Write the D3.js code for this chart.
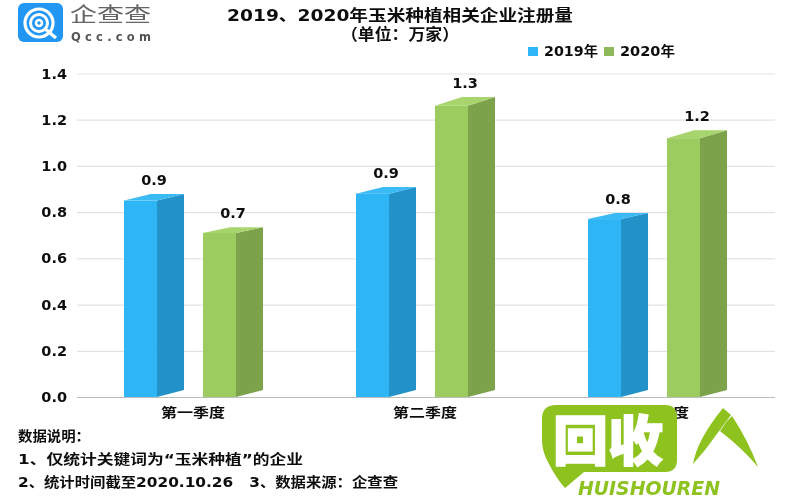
<!DOCTYPE html>
<html><head><meta charset="utf-8">
<script src="https://cdn.jsdelivr.net/npm/d3@7/dist/d3.min.js"></script>
<style>html,body{margin:0;padding:0;background:#fff}svg{display:block}
text{font-family:"DejaVu Sans","Noto Sans CJK SC",sans-serif;font-weight:700;fill:#111;white-space:pre}</style>
</head><body><svg id="c" width="800" height="500"></svg>
<script>
const categories = ["第一季度","第二季度","第三季度"];
const seriesNames = ["2019年","2020年"];
const values2019 = [0.85,0.88,0.77];
const values2020 = [0.71,1.26,1.12];
const labels2019 = ["0.9","0.9","0.8"];
const labels2020 = ["0.7","1.3","1.2"];
const yTicks = [0,0.2,0.4,0.6,0.8,1.0,1.2,1.4];
const titleLines = ["2019、2020年玉米种植相关企业注册量","（单位：万家）"];
const notes = ["数据说明：","1、仅统计关键词为“玉米种植”的企业","2、统计时间截至2020.10.26   3、数据来源：企查查"];
const palette = [{front:"#2FB5F6",side:"#2492C8",top:"#3ABBF5"},{front:"#9CCB5E",side:"#7CA24C",top:"#A8D46D"}];

const svg = d3.select("#c");
const blur = svg.append("defs").append("filter").attr("id","soft");
blur.append("feGaussianBlur").attr("stdDeviation",0.45);
const root = svg.append("g").attr("filter","url(#soft)");

function label(g,x,y,str,size,width,anchor){
  const t = g.append("text").attr("x",x).attr("y",y).attr("font-size",size)
    .attr("dominant-baseline","central").attr("text-anchor",anchor||"start").text(str);
  if(width) t.attr("textLength",width).attr("lengthAdjust","spacingAndGlyphs");
  return t;
}

const x = d3.scaleBand().domain(categories).range([77,773]);
const xInner = d3.scaleBand().domain(seriesNames).range([47,186]).paddingInner(0.24).paddingOuter(0);
const y = d3.scaleLinear().domain([0,1.4]).range([397,73.5]);

// Axes
const gy = root.append("g").attr("transform","translate(77,0)")
  .call(d3.axisLeft(y).tickValues(yTicks).tickFormat(d3.format(".1f")).tickSize(-698).tickPadding(10));
gy.select(".domain").remove();
gy.selectAll("line").attr("stroke",d=>d===0?"#bdbdbd":"#e3e3e3").attr("stroke-width",1.2);
gy.selectAll("text").attr("font-size",14.5).style("font-family","'DejaVu Sans',sans-serif").style("fill","#111");

const gx = root.append("g").attr("transform","translate(0,397)")
  .call(d3.axisBottom(x).tickSize(0).tickPadding(11));
gx.select(".domain").remove();
gx.selectAll("text").attr("font-size",13).attr("textLength",64).attr("lengthAdjust","spacingAndGlyphs").style("fill","#111");

// 3D bars: the top face recedes a little more on taller bars
const baseRise = 7, frontShare = 0.55;
const topRise = v => 1.8 + 5.6*v;
[values2019,values2020].forEach((vals,si)=>{
  const name = seriesNames[si], col = palette[si];
  const labs = si===0?labels2019:labels2020;
  const g = root.append("g");
  categories.forEach((cat,i)=>{
    const left = x(cat)+xInner(name), w = xInner.bandwidth();
    const fw = w*frontShare, sw = w-fw, top = y(vals[i]), base = y(0), rise = topRise(vals[i]);
    g.append("path").attr("fill",col.side)
      .attr("d",d3.line()([[left+fw,top],[left+w,top-rise],[left+w,base-baseRise],[left+fw,base]]));
    g.append("path").attr("fill",col.top)
      .attr("d",d3.line()([[left,top],[left+sw,top-rise],[left+w,top-rise],[left+fw,top]]));
    g.append("rect").attr("x",left).attr("y",top).attr("width",fw).attr("height",base-top).attr("fill",col.front);
    label(root,left+w/2,top-rise-14,labs[i],14.5,null,"middle");
  });
});

// Title
label(root,400,15,titleLines[0],16,346,"middle");
label(root,400,34,titleLines[1],16,118,"middle");

// Legend
[[528,544],[604,620]].forEach((p,i)=>{
  root.append("rect").attr("x",p[0]).attr("y",47).attr("width",10).attr("height",9).attr("fill",i?"#8FB958":palette[0].front);
  label(root,p[1],51,seriesNames[i],13.5,i?55:54);
});

// Notes
label(root,18,436,notes[0],13.5,72);
label(root,18,459,notes[1],13.5,285);
label(root,18,482,notes[2],13.5,380);

// Qcc logo
const logo = root.append("g");
logo.append("rect").attr("x",18).attr("y",3).attr("width",45).attr("height",39).attr("rx",6).attr("fill","#2196F3");
[[15,3.2],[9.5,3],[4,2.6]].forEach(c=>logo.append("circle").attr("cx",39).attr("cy",23).attr("r",c[0]-1)
  .attr("fill","none").attr("stroke","#fff").attr("stroke-width",c[1]));
logo.append("path").attr("d","M44 28L56 38").attr("stroke","#fff").attr("stroke-width",3.5);
label(logo,70,15,"企查查",20,81).style("fill","#666").style("font-weight",400);
logo.append("text").attr("x",71).attr("y",41).attr("font-size",11.5).attr("textLength",80).attr("lengthAdjust","spacing").text("Qcc.com").style("fill","#555");

// Watermark
const wm = svg.append("g"), wmGreen="#8DC21F";
wm.append("path").attr("fill",wmGreen)
  .attr("d","M556 405H665Q677 405 677 417V460Q677 472 665 472H584L565 488Q556 478 549 464Q542 452 542 440V419Q542 405 556 405Z");
label(wm,553,437,"回收",54,110).style("fill","#fff").style("font-family","'Noto Sans CJK SC'").style("font-weight",900).attr("stroke","#fff").attr("stroke-width",1.5);
wm.append("path").attr("fill",wmGreen).attr("d","M723 408L731 415L705 450L693 464Q697 440 723 408Z");
wm.append("path").attr("fill",wmGreen).attr("d","M727 421L732 416Q748 440 758 467Q742 448 720 431Z");
label(wm,578,488,"HUISHOUREN",19,142).style("fill",wmGreen).style("font-style","italic");
</script></body></html>
